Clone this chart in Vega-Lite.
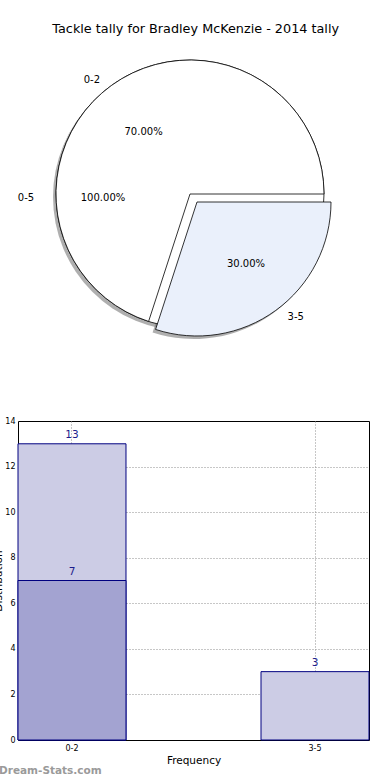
{
  "$schema": "https://vega.github.io/schema/vega-lite/v6.json",
  "background": "white",
  "padding": {"left": -7, "top": 23, "right": 0, "bottom": 0},
  "title": {"text": "Tackle tally for Bradley McKenzie - 2014 tally", "fontSize": 12.8, "fontWeight": "normal", "anchor": "middle", "dx": 14, "offset": 4, "color": "black"},
  "spacing": 73,
  "bounds": "flush",
  "datasets": {
    "ring": [{"group": "0-5", "value": 10, "pct": "100.00%"}],
    "slices": [
      {"group": "0-2", "value": 7, "ord": 2, "pct": "70.00%"},
      {"group": "3-5", "value": 3, "ord": 1, "pct": "30.00%"}
    ],
    "bars": [
      {"cat": "0-2", "series": "total", "count": 13},
      {"cat": "3-5", "series": "total", "count": 3},
      {"cat": "0-2", "series": "sub", "count": 7}
    ]
  },
  "config": {
    "font": "DejaVu Sans",
    "view": {"stroke": null},
    "axis": {"labelColor": "black", "titleColor": "black", "gridColor": "#8f8f8f", "gridDash": [1, 2], "gridWidth": 1, "ticks": false, "domain": false, "labelFontSize": 8, "titleFontSize": 10.5, "titleFontWeight": "normal", "zindex": 1}
  },
  "vconcat": [
    {
      "width": 344,
      "height": 308,
      "layer": [
        {
          "data": {"name": "ring"},
          "mark": {"type": "arc", "outerRadius": 134, "fill": "#7a7a7a", "opacity": 0.6, "xOffset": -3, "yOffset": 3},
          "encoding": {"theta": {"field": "value", "type": "quantitative", "stack": true, "scale": {"domain": [0, 10], "range": [1.5708, 7.854]}}}
        },
        {
          "data": {"name": "slices"},
          "mark": {"type": "arc", "outerRadius": 134, "fill": "#7a7a7a", "xOffset": 4, "yOffset": 11},
          "encoding": {
            "theta": {"field": "value", "type": "quantitative", "stack": true},
            "order": {"field": "ord"},
            "opacity": {"condition": {"test": "datum.group === '3-5'", "value": 0.6}, "value": 0}
          }
        },
        {
          "data": {"name": "ring"},
          "mark": {"type": "arc", "outerRadius": 134, "fill": "white", "stroke": "black", "strokeWidth": 0.8},
          "encoding": {"theta": {"field": "value", "type": "quantitative", "stack": true}}
        },
        {
          "data": {"name": "slices"},
          "mark": {"type": "arc", "outerRadius": 134, "fill": "white", "stroke": "black", "strokeWidth": 0.8},
          "encoding": {
            "theta": {"field": "value", "type": "quantitative", "stack": true},
            "order": {"field": "ord"},
            "opacity": {"condition": {"test": "datum.group === '0-2'", "value": 1}, "value": 0}
          }
        },
        {
          "data": {"name": "slices"},
          "mark": {"type": "arc", "outerRadius": 134, "fill": "#eaf0fb", "stroke": "black", "strokeWidth": 0.8, "xOffset": 7, "yOffset": 8},
          "encoding": {
            "theta": {"field": "value", "type": "quantitative", "stack": true},
            "order": {"field": "ord"},
            "opacity": {"condition": {"test": "datum.group === '3-5'", "value": 1}, "value": 0}
          }
        },
        {
          "data": {"name": "ring"},
          "mark": {"type": "text", "radius": 164, "fontSize": 10, "dy": 4, "align": "center", "baseline": "middle"},
          "encoding": {"theta": {"field": "value", "type": "quantitative", "stack": true}, "text": {"field": "group"}}
        },
        {
          "data": {"name": "ring"},
          "mark": {"type": "text", "radius": 87, "fontSize": 10, "dy": 4, "align": "center", "baseline": "middle"},
          "encoding": {"theta": {"field": "value", "type": "quantitative", "stack": true}, "text": {"field": "pct"}}
        },
        {
          "data": {"name": "slices"},
          "mark": {"type": "text", "radius": 150, "fontSize": 10, "dx": -10, "dy": 7, "align": "center", "baseline": "middle"},
          "encoding": {
            "theta": {"field": "value", "type": "quantitative", "stack": true},
            "order": {"field": "ord"},
            "text": {"condition": {"test": "datum.group === '0-2'", "field": "group"}, "value": ""}
          }
        },
        {
          "data": {"name": "slices"},
          "mark": {"type": "text", "radius": 79, "fontSize": 10, "dy": 2, "align": "center", "baseline": "middle"},
          "encoding": {
            "theta": {"field": "value", "type": "quantitative", "stack": true},
            "order": {"field": "ord"},
            "text": {"condition": {"test": "datum.group === '0-2'", "field": "pct"}, "value": ""}
          }
        },
        {
          "data": {"name": "slices"},
          "mark": {"type": "text", "radius": 151, "fontSize": 10, "dx": 17, "dy": 1, "align": "center", "baseline": "middle"},
          "encoding": {
            "theta": {"field": "value", "type": "quantitative", "stack": true},
            "order": {"field": "ord"},
            "text": {"condition": {"test": "datum.group === '3-5'", "field": "group"}, "value": ""}
          }
        },
        {
          "data": {"name": "slices"},
          "mark": {"type": "text", "radius": 80, "fontSize": 10, "dx": 9, "dy": 5, "align": "center", "baseline": "middle"},
          "encoding": {
            "theta": {"field": "value", "type": "quantitative", "stack": true},
            "order": {"field": "ord"},
            "text": {"condition": {"test": "datum.group === '3-5'", "field": "pct"}, "value": ""}
          }
        }
      ]
    },
    {
      "width": 351,
      "height": 319,
      "view": {"stroke": "black", "strokeWidth": 1},
      "title": {"text": "Dream-Stats.com", "orient": "bottom", "anchor": "start", "frame": "group", "dx": -19, "offset": 0, "fontSize": 10.5, "fontWeight": "bold", "color": "#9a9a9a"},
      "data": {"name": "bars"},
      "encoding": {
        "x": {"field": "cat", "type": "nominal", "scale": {"domain": ["0-2", "3-5"], "paddingInner": 0.5556, "paddingOuter": 0}, "axis": {"title": "Frequency", "labelAngle": 0, "bandPosition": 0.5, "grid": true, "labelPadding": 4, "titlePadding": 3}},
        "y": {"field": "count", "type": "quantitative", "stack": null, "scale": {"domain": [0, 14], "nice": false}, "axis": {"title": "Distribution", "values": [0, 2, 4, 6, 8, 10, 12, 14], "grid": true, "gridOpacity": {"condition": {"test": "datum.value === 0 || datum.value === 14", "value": 0}, "value": 1}, "labelPadding": 3, "titlePadding": 1}}
      },
      "layer": [
        {
          "mark": {"type": "bar", "stroke": "#000080", "strokeWidth": 1},
          "encoding": {"color": {"field": "series", "type": "nominal", "scale": {"domain": ["total", "sub"], "range": ["#ccccE5", "#a3a3d1"]}, "legend": null}}
        },
        {
          "mark": {"type": "text", "baseline": "alphabetic", "dy": -6, "fontSize": 10.5, "color": "#1c1c8c"},
          "encoding": {"text": {"field": "count", "type": "quantitative"}}
        }
      ]
    }
  ]
}
